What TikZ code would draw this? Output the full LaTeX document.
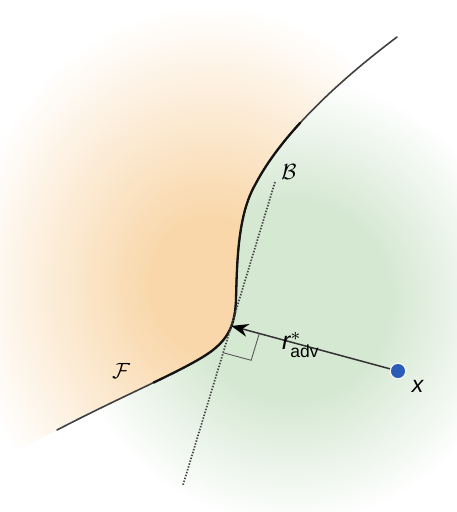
\documentclass[tikz,border=0pt]{standalone}
\usepackage{amsmath}
\usepackage{graphicx}
\usepackage{fontspec}
\setsansfont{Liberation Sans}
\usetikzlibrary{arrows.meta, calc}
\definecolor{glowpeach}{HTML}{F9D7AA}
\definecolor{glowgreen}{HTML}{D5E8D2}
\definecolor{dotblue}{HTML}{2B5CB8}
\pgfdeclareradialshading{peachglow}{\pgfpoint{0bp}{0bp}}{color(0bp)=(glowpeach); color(6bp)=(glowpeach); color(25bp)=(white); color(50bp)=(white)}
\pgfdeclareradialshading{greenglow}{\pgfpoint{0bp}{0bp}}{color(0bp)=(glowgreen); color(11bp)=(glowgreen); color(25bp)=(white); color(50bp)=(white)}
\begin{document}
\begin{tikzpicture}[x=1pt, y=-1pt,
    boundary/.style={line width=1.6pt, draw=black!75, line cap=round},
    boundarymid/.style={line width=2.3pt, draw=black!92, line cap=round},
    linear/.style={line width=1.7pt, draw=black!72, dash pattern=on 1.5pt off 1.5pt},
    perturb/.style={line width=1.5pt, draw=black!80, -{Stealth[length=17pt, width=13pt, color=black]}},
    rightmark/.style={line width=0.9pt, draw=black!65},
    lab/.style={inner sep=1pt},
    sample/.style={circle, fill=dotblue, minimum size=14pt, inner sep=0pt}
  ]
  \useasboundingbox (0,0) rectangle (456,512);

  % boundary F
  \coordinate (f0) at (57,430);
  \coordinate (f1) at (213,350);
  \coordinate (f2) at (236,300);
  \coordinate (f3) at (255,185);
  \coordinate (f4) at (397,37);

  % background glows
  \begin{scope}
    \clip (-5,462) -- (f0) .. controls (130,392) and (190,368) .. (f1)
      .. controls (228,338) and (235,325) .. (f2)
      .. controls (237,260) and (238,215) .. (f3)
      .. controls (282,133) and (340,80) .. (f4) -- (453,-5) -- (-5,-5) -- cycle;
    \shade[shading=peachglow] (210,285) ellipse [x radius=245, y radius=280];
  \end{scope}
  \begin{scope}
    \clip (-5,462) -- (f0) .. controls (130,392) and (190,368) .. (f1)
      .. controls (228,338) and (235,325) .. (f2)
      .. controls (237,260) and (238,215) .. (f3)
      .. controls (282,133) and (340,80) .. (f4) -- (453,-5) -- (461,-5) -- (461,517) -- (-5,517) -- cycle;
    \shade[shading=greenglow] (290,300) ellipse [x radius=225, y radius=225];
  \end{scope}

  \draw[boundary] (f0) .. controls (130,392) and (190,368) .. (f1)
    .. controls (228,338) and (235,325) .. (f2)
    .. controls (237,260) and (238,215) .. (f3)
    .. controls (282,133) and (340,80) .. (f4);
  \draw[boundarymid] (153.75,382.5) .. controls (180.75,369.5) and (201.5,359) .. (f1)
    .. controls (228,338) and (235,325) .. (f2)
    .. controls (237,260) and (238,215) .. (f3)
    .. controls (265.8,164.2) and (281.56,143.24) .. (300.2,122.8);

  % linearised boundary B
  \coordinate (btop) at (275,182);
  \coordinate (bbot) at (183,485);
  \draw[linear] (btop) -- (bbot);

  \coordinate (tip) at ($(btop)!0.475!(bbot)$);
  \node[sample, draw=white, line width=2.5pt, draw opacity=0.7] (x) at (398,371) {};

  % right angle
  \coordinate (ra) at ($(tip)!29pt!(x)$);
  \coordinate (rb) at ($(tip)!28pt!(bbot)$);
  \draw[rightmark] (ra) -- ($(ra)+(rb)-(tip)$) -- (rb);

  \draw[perturb] (x) -- (tip);
  \node[sample] at (x) {};

  \node[lab] (labF) at (121,371) {\scalebox{2.2}{$\mathcal{F}$}};
  \node[lab] (labB) at (289,172) {\scalebox{2.2}{$\mathcal{B}$}};
  \node[lab, font=\sffamily] (labr) at (301,345) {\scalebox{2.5}{$\textit{r}^{*}_{\textup{adv}}$}};
  \node[lab, font=\sffamily] (labx) at (418,386) {\scalebox{2.3}{\textit{x}}};
\end{tikzpicture}
\end{document}
